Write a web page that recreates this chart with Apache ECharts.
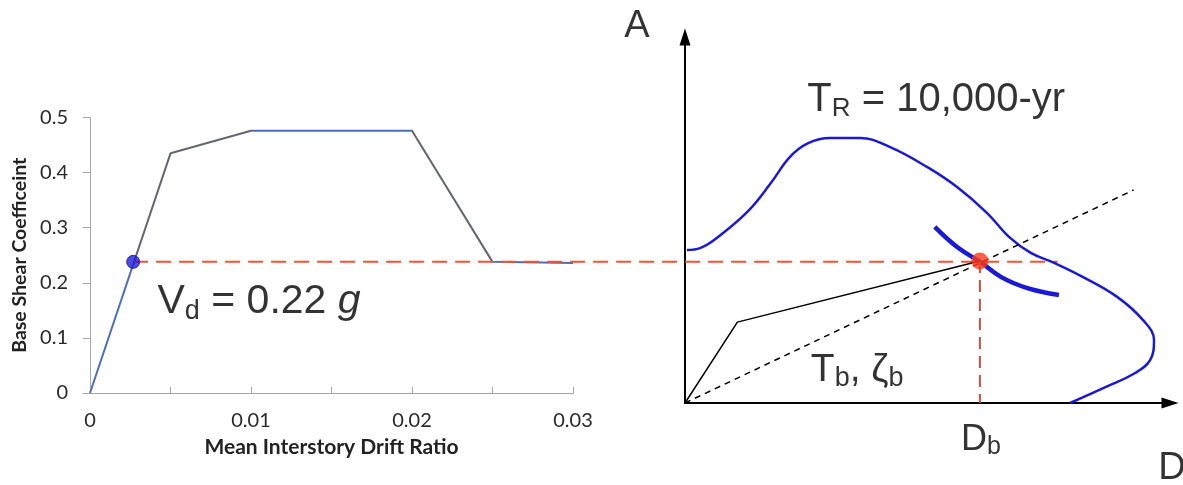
<!DOCTYPE html>
<html>
<head>
<meta charset="utf-8">
<script src="https://cdn.jsdelivr.net/npm/echarts@6/dist/echarts.min.js"></script>
<style>
html, body { margin: 0; padding: 0; background: #fff; }
#main { width: 1183px; height: 485px; }
</style>
</head>
<body>
<div id="main"></div>
<script>
// left panel: pushover curve
var driftRatio = [0, 0.005, 0.01, 0.02, 0.025, 0.03];
var baseShear = [0, 0.435, 0.476, 0.476, 0.238, 0.236];
var designPoint = [0.00268, 0.238];
var dashEndDrift = 0.0601;   // dashed line runs on into the right panel
var vdLabelPos = [0.0105, 0.165];

// right panel: A-D schematic, both axes 0..100
var spectrumD = [0.4, 3.1, 7.8, 13.2, 17.7, 21.6, 25.4, 29.9, 36.1, 42.3, 49.9, 56.1,
                 62.3, 66.8, 71.3, 76.1, 82.1, 89.1, 94.4, 96.7, 95.9, 92.8, 86.8, 79.4];
var spectrumA = [41.8, 42.3, 46.4, 52.7, 60.1, 67.2, 71.0, 72.4, 72.4, 69.9, 64.5, 59.0,
                 51.9, 45.4, 41.0, 38.3, 34.4, 29.0, 22.7, 17.2, 11.7, 8.2, 4.4, 0];
var demandD = [51.5, 56.1, 60.8, 65.2, 70.6, 77.1];
var demandA = [48.1, 42.6, 38.6, 34.4, 31.4, 29.5];
var capacityD = [0, 10.8, 60.8];
var capacityA = [0, 22.1, 38.8];
var secantD = [0, 92.5];
var secantA = [0, 58.2];
var perfPoint = [60.8, 38.8];

var BLUE = '#4a6fb8', GRAY = '#62676d';
var RED = '#ee5533', DARKRED = '#c0503f', INK = '#1a1ad6';

function zip(a, b) {
    var out = [];
    for (var i = 0; i < a.length; i++) out.push([a[i], b[i]]);
    return out;
}

// text placed at a data point, using rich text for subscripts
function textMark(grid, pos, text, rich) {
    return {
        type: 'scatter', xAxisIndex: grid, yAxisIndex: grid,
        data: [pos], symbolSize: 0, clip: false, silent: true, z: 10,
        label: { show: true, position: 'inside', color: '#000', formatter: text, rich: rich }
    };
}

function subRich(main, sub, lh) {
    var f = '"Liberation Sans", Arial, sans-serif';
    return {
        m: { fontSize: main, lineHeight: lh, fontFamily: f, color: '#000' },
        i: { fontSize: main, lineHeight: lh, fontFamily: f, color: '#000', fontStyle: 'italic' },
        s: { fontSize: sub, lineHeight: sub, fontFamily: f, color: '#000', verticalAlign: 'bottom' }
    };
}

function hiddenAxis(grid, min, max) {
    return { gridIndex: grid, type: 'value', min: min, max: max, show: false };
}

function arrowAxis(grid) {
    return {
        gridIndex: grid, type: 'value', min: 0, max: 100,
        axisLine: { symbol: ['none', 'triangle'], symbolSize: [11, 17], lineStyle: { color: '#000', width: 2 } },
        axisTick: { show: false }, axisLabel: { show: false }, splitLine: { show: false }
    };
}

var labelFont = 'Lato, "Open Sans", sans-serif';
var chart = echarts.init(document.getElementById('main'));

chart.setOption({
    backgroundColor: '#fff',
    animation: false,
    grid: [
        { left: 90, top: 117.5, width: 483, height: 275.5 },
        { left: 685, top: 37, width: 485, height: 366 },
        // same scale as the left panel, stretched across the page for the dashed line
        { left: 90, top: 117.5, width: 1093, height: 275.5 }
    ],
    xAxis: [
        {
            gridIndex: 0, type: 'value', min: 0, max: 0.03, interval: 0.005,
            name: 'Mean Interstory Drift Ratio', nameLocation: 'middle', nameGap: 44,
            nameTextStyle: { fontFamily: labelFont, fontWeight: 'bold', fontSize: 21, color: '#222' },
            axisLine: { lineStyle: { color: '#a6a6a6', width: 1 } },
            axisTick: { inside: true, length: 6, lineStyle: { color: '#a6a6a6' } },
            axisLabel: {
                margin: 18, fontFamily: labelFont, fontSize: 20, color: '#2a2a2a',
                formatter: function (v) {
                    return Math.round(v * 1000) % 10 === 0 ? String(+v.toFixed(2)) : '';
                }
            },
            splitLine: { show: false }
        },
        arrowAxis(1),
        hiddenAxis(2, 0, 1093 / 16100)
    ],
    yAxis: [
        {
            gridIndex: 0, type: 'value', min: 0, max: 0.5, interval: 0.1,
            name: 'Base Shear Coefficeint', nameLocation: 'middle', nameGap: 60,
            nameTextStyle: { fontFamily: labelFont, fontWeight: 'bold', fontSize: 19.5, color: '#222' },
            axisLine: { show: true, lineStyle: { color: '#a6a6a6', width: 1 } },
            axisTick: { show: true, length: 7, lineStyle: { color: '#a6a6a6' } },
            axisLabel: { margin: 22, fontFamily: labelFont, fontSize: 20, color: '#2a2a2a' },
            splitLine: { show: false }
        },
        arrowAxis(1),
        hiddenAxis(2, 0, 0.5)
    ],
    // the Excel line is partly blue, partly grey
    visualMap: {
        show: false, type: 'piecewise', seriesIndex: 0, dimension: 0,
        pieces: [
            { lt: 0.0027, color: BLUE },
            { gte: 0.0027, lt: 0.01, color: GRAY },
            { gte: 0.01, lt: 0.02, color: BLUE },
            { gte: 0.02, lt: 0.025, color: GRAY },
            { gte: 0.025, color: BLUE }
        ]
    },
    series: [
        {
            type: 'line', xAxisIndex: 0, yAxisIndex: 0, data: zip(driftRatio, baseShear),
            showSymbol: false, silent: true, lineStyle: { width: 2 }
        },
        {
            type: 'line', xAxisIndex: 2, yAxisIndex: 2, silent: true,
            data: [designPoint, [dashEndDrift, designPoint[1]]], showSymbol: false,
            lineStyle: { color: RED, width: 2, type: [15, 8] }, z: 3
        },
        {
            type: 'scatter', xAxisIndex: 0, yAxisIndex: 0, data: [designPoint], symbolSize: 13,
            itemStyle: { color: '#1c1cdc', borderColor: '#12129a', borderWidth: 1 }, z: 5
        },
        // right panel
        {
            type: 'line', xAxisIndex: 1, yAxisIndex: 1, data: zip(spectrumD, spectrumA),
            smooth: 0.4, showSymbol: false, silent: true, lineStyle: { color: INK, width: 2.5 }
        },
        {
            type: 'line', xAxisIndex: 1, yAxisIndex: 1, data: zip(demandD, demandA),
            smooth: 0.4, showSymbol: false, silent: true, lineStyle: { color: INK, width: 4.5 }
        },
        {
            type: 'line', xAxisIndex: 1, yAxisIndex: 1, data: zip(capacityD, capacityA),
            showSymbol: false, silent: true, lineStyle: { color: '#000', width: 1.5 }
        },
        {
            type: 'line', xAxisIndex: 1, yAxisIndex: 1, data: zip(secantD, secantA),
            showSymbol: false, silent: true, lineStyle: { color: '#000', width: 1.5, type: [6, 5] }
        },
        {
            type: 'line', xAxisIndex: 1, yAxisIndex: 1, data: [perfPoint, [perfPoint[0], 0]],
            showSymbol: false, silent: true, lineStyle: { color: DARKRED, width: 2, type: [12, 7] }
        },
        {
            type: 'scatter', xAxisIndex: 1, yAxisIndex: 1, data: [perfPoint], symbolSize: 17,
            itemStyle: { color: '#ff3c14' }, z: 6
        },
        textMark(0, vdLabelPos, '{m|V}{s|d}{m| = 0.22 }{i|g}', subRich(41, 27, 46)),
        textMark(1, [-9.9, 103], '{m|A}', subRich(38, 24, 42)),
        textMark(1, [51.8, 82.8], '{m|T}{s|R}{m| = 10,000-yr}', subRich(40, 26, 44)),
        textMark(1, [35.5, 9.0], '{m|T}{s|b}{m|, ζ}{s|b}', subRich(39, 27, 44)),
        textMark(1, [61, -10.1], '{m|D}{s|b}', subRich(36, 25, 40)),
        textMark(1, [100.4, -17.8], '{m|D}', subRich(38, 24, 42))
    ]
});
</script>
</body>
</html>
